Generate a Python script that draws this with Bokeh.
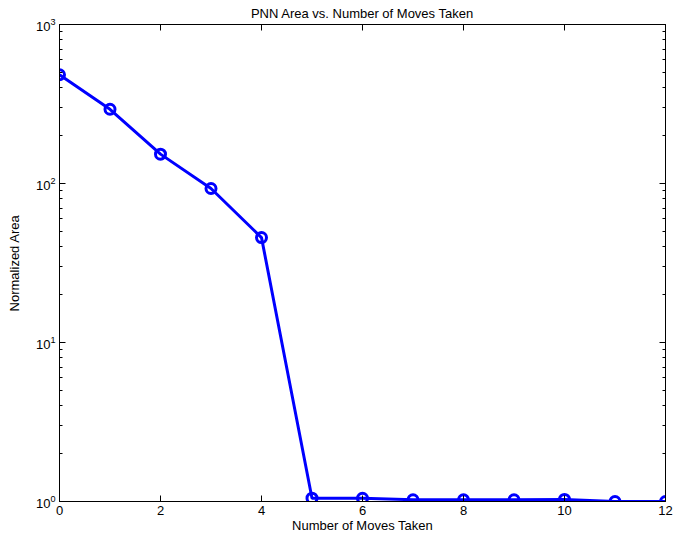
from bokeh.plotting import figure
from bokeh.models import LinearAxis, LogAxis, Range1d, FixedTicker
from bokeh.embed import file_html
from bokeh.resources import INLINE

moves = [0, 1, 2, 3, 4, 5, 6, 7, 8, 9, 10, 11, 12]
area = [483, 293, 153, 93, 45.7, 1.049, 1.048, 1.025, 1.025, 1.025, 1.03, 1.0, 1.0]
x_ticks = [0, 2, 4, 6, 8, 10, 12]
y_ticks = [1, 10, 100, 1000]
y_minor = [m * d for d in [1, 10, 100] for m in range(2, 10)]
title_text = "PNN Area vs. Number of Moves Taken"

FONT = "Liberation Sans"

p = figure(width=675, height=535, output_backend="svg", toolbar_location=None,
           y_axis_type="log", x_range=Range1d(0, 12), y_range=Range1d(1, 1000),
           title=title_text,
           min_border_left=59, min_border_top=23, min_border_right=10, min_border_bottom=34)

p.xgrid.visible = False
p.ygrid.visible = False
p.outline_line_color = "black"
p.outline_line_width = 1

p.title.align = "center"
p.title.offset = 3
p.title.standoff = 7
p.title.text_line_height = 0.7
p.title.text_font = FONT
p.title.text_font_size = "13px"
p.title.text_font_style = "normal"
p.title.text_color = "black"

def style(ax, labels=True):
    ax.axis_line_color = "black"
    ax.major_tick_in = 6
    ax.major_tick_out = 0
    ax.minor_tick_in = 3
    ax.minor_tick_out = 0
    ax.major_tick_line_color = "black"
    ax.minor_tick_line_color = "black"
    ax.major_label_text_font = FONT
    ax.major_label_text_font_size = "13px"
    ax.major_label_text_color = "black"
    ax.major_label_standoff = 4
    ax.axis_label_text_font = FONT
    ax.axis_label_text_font_size = "13px"
    ax.axis_label_text_font_style = "normal"
    ax.axis_label_text_color = "black"
    ax.axis_label_standoff = 4
    if not labels:
        ax.major_label_text_font_size = "1px"
        ax.major_label_text_color = None
        ax.major_label_standoff = 0

xa = p.xaxis[0]
xa.ticker = FixedTicker(ticks=x_ticks)
style(xa)
xa.axis_label = "Number of Moves Taken"
xa.axis_label_standoff = 0
xa.minor_tick_line_color = None

ya = p.yaxis[0]
ya.ticker = FixedTicker(ticks=y_ticks, minor_ticks=y_minor)
style(ya)
ya.axis_label = "Normalized Area"
ya.axis_label_standoff = 11

top = LinearAxis(ticker=FixedTicker(ticks=x_ticks))
style(top, labels=False)
top.minor_tick_line_color = None
p.add_layout(top, "above")

right = LogAxis(ticker=FixedTicker(ticks=y_ticks, minor_ticks=y_minor))
style(right, labels=False)
p.add_layout(right, "right")

p.line(moves, area, line_color="#0000ff", line_width=3)
p.scatter(moves, area, size=10, fill_color=None, line_color="#0000ff", line_width=3)

open("out.html", "w").write(file_html(p, INLINE))
